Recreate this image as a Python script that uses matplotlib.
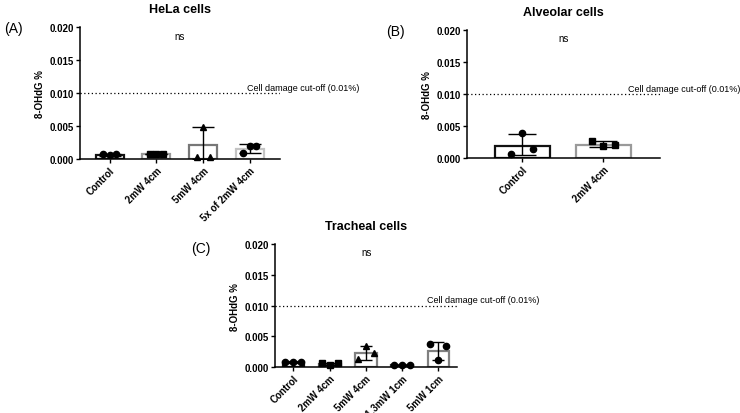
import numpy as np
import matplotlib.pyplot as plt

plt.rcParams['font.family'] = ['Liberation Sans', 'DejaVu Sans']

CUTOFF = 0.01

# (A) HeLa cells
hela_labels = ["Control", "2mW 4cm", "5mW 4cm", "5x of 2mW 4cm"]
hela_means = [0.0006, 0.0007, 0.0021, 0.0015]
hela_err_lo = [0.0005, 0.0007, 0.0, 0.0009]
hela_err_hi = [0.0007, 0.0007, 0.0048, 0.0023]
hela_points = [[0.0007, 0.0006, 0.0007],
               [0.0007, 0.0007, 0.0007],
               [0.0003, 0.0048, 0.0003],
               [0.0009, 0.0020, 0.0019]]
hela_markers = ["o", "s", "^", "o"]
hela_edges = ["#111111", "#9a9a9a", "#777777", "#c4c4c4"]

# (B) Alveolar cells
alv_labels = ["Control", "2mW 4cm"]
alv_means = [0.0019, 0.0021]
alv_err_lo = [0.0004, 0.0017]
alv_err_hi = [0.0037, 0.0027]
alv_points = [[0.0006, 0.0039, 0.0014],
              [0.0027, 0.0018, 0.0021]]
alv_markers = ["o", "s"]
alv_edges = ["#111111", "#9a9a9a"]

# (C) Tracheal cells
tra_labels = ["Control", "2mW 4cm", "5mW 4cm", "1.3mW 1cm", "5mW 1cm"]
tra_means = [0.0008, 0.0005, 0.0023, 0.0004, 0.0026]
tra_err_lo = [0.0007, 0.0004, 0.0012, 0.0003, 0.0012]
tra_err_hi = [0.0009, 0.0006, 0.0035, 0.0004, 0.0040]
tra_points = [[0.0008, 0.0008, 0.0008],
              [0.0006, 0.0004, 0.0006],
              [0.0013, 0.0035, 0.0023],
              [0.0004, 0.0004, 0.0004],
              [0.0038, 0.0012, 0.0035]]
tra_markers = ["o", "s", "^", "o", "o"]
tra_edges = ["#111111", "#555555", "#808080", "#333333", "#808080"]


def panel(fig, rect, title, letter, labels, means, lo, hi, points, markers,
          edges, xlim, width, spread, capsize, letter_pos):
    ax = fig.add_axes(rect)
    x = np.arange(len(labels))
    ax.bar(x, means, width=width, facecolor="white", edgecolor=edges,
           linewidth=1.6, zorder=2)
    for i in range(len(labels)):
        ax.errorbar(x[i], means[i],
                    yerr=[[means[i] - lo[i]], [hi[i] - means[i]]],
                    fmt="none", ecolor="black", elinewidth=1.0,
                    capsize=capsize, capthick=1.0, zorder=3)
        offs = np.array([-spread, 0, spread])
        ax.plot(x[i] + offs, points[i], linestyle="none", marker=markers[i],
                color="black", markersize=4.5, zorder=4, clip_on=False)
    ax.set_xlim(*xlim)
    ax.set_ylim(0, 0.02)
    ax.set_yticks([0, 0.005, 0.01, 0.015, 0.02])
    ax.set_yticklabels(["0.000", "0.005", "0.010", "0.015", "0.020"],
                       fontsize=7, fontweight="bold")
    ax.set_xticks(x)
    ax.set_xticklabels(labels, rotation=45, ha="right",
                       rotation_mode="anchor", fontsize=7, fontweight="bold")
    ax.tick_params(axis="both", length=3, width=1, pad=1.5)
    for s in ["top", "right"]:
        ax.spines[s].set_visible(False)
    for s in ["left", "bottom"]:
        ax.spines[s].set_linewidth(1.1)
    ax.set_ylabel("8-OHdG %", fontsize=7, fontweight="bold", labelpad=3)
    ax.axhline(CUTOFF, color="black", linestyle=(0, (1, 2)), linewidth=0.9,
               zorder=1)
    ax.text(0.835, CUTOFF + 0.0002, "Cell damage cut-off (0.01%)",
            transform=ax.get_yaxis_transform(), ha="left", va="bottom",
            fontsize=6.5)
    ax.text(0.5, 0.0187, "ns", transform=ax.get_yaxis_transform(),
            ha="center", va="center", fontsize=7)
    ax.set_title(title, fontsize=9, fontweight="bold", pad=11)
    ax.text(letter_pos[0], letter_pos[1], letter, transform=ax.transAxes,
            ha="left", va="center", fontsize=10)
    return ax


fig = plt.figure(figsize=(7.4, 4.14), dpi=100)

panel(fig, [0.108, 0.6135, 0.27, 0.3185], "HeLa cells", "(A)",
      hela_labels, hela_means, hela_err_lo, hela_err_hi, hela_points,
      hela_markers, hela_edges, (-0.64, 3.64), 0.6, 0.14, 8, (-0.38, 0.99))

panel(fig, [0.631, 0.616, 0.261, 0.309], "Alveolar cells", "(B)",
      alv_labels, alv_means, alv_err_lo, alv_err_hi, alv_points,
      alv_markers, alv_edges, (-0.68, 1.7), 0.68, 0.14, 10, (-0.42, 0.99))

panel(fig, [0.372, 0.111, 0.246, 0.297], "Tracheal cells", "(C)",
      tra_labels, tra_means, tra_err_lo, tra_err_hi, tra_points,
      tra_markers, tra_edges, (-0.5, 4.52), 0.6, 0.22, 4.5, (-0.46, 0.965))

fig.savefig("out.png", dpi=100)
